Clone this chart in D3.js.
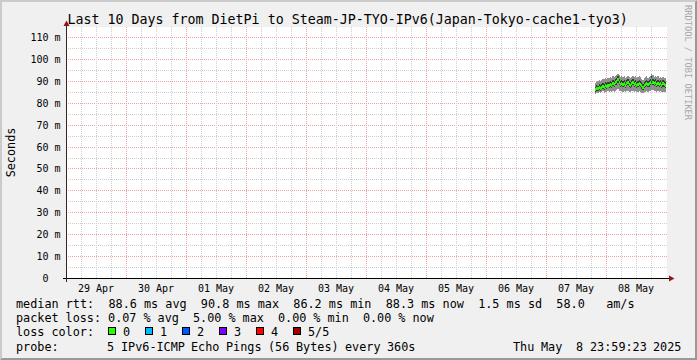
<!DOCTYPE html>
<html><head><meta charset="utf-8">
<script src="https://cdn.jsdelivr.net/npm/d3@7"></script>
<style>
html,body{margin:0;padding:0;background:#f0f0f0;}
svg{display:block;}
text{font-family:"DejaVu Sans Mono",monospace;fill:#000;}
</style></head><body>
<svg id="c" width="697" height="360"></svg>
<script>
// ---------------- data ----------------
const title = "Last 10 Days from DietPi to Steam-JP-TYO-IPv6(Japan-Tokyo-cache1-tyo3)";
const yLabel = "Seconds";
const watermark = "RRDTOOL / TOBI OETIKER";
const rangeStart = "2025-04-28 23:59:23";
const rangeEnd = "2025-05-08 23:59:23";
const yTicks = [0, 10, 20, 30, 40, 50, 60, 70, 80, 90, 100, 110];
const yTickLabels = ["0", "10 m", "20 m", "30 m", "40 m", "50 m", "60 m", "70 m", "80 m", "90 m", "100 m", "110 m"];
const dayStarts = ["2025-04-29", "2025-04-30", "2025-05-01", "2025-05-02", "2025-05-03", "2025-05-04", "2025-05-05", "2025-05-06", "2025-05-07", "2025-05-08"];
const dayLabels = ["29 Apr", "30 Apr", "01 May", "02 May", "03 May", "04 May", "05 May", "06 May", "07 May", "08 May"];

const times = [
 "2025-05-07 19:30","2025-05-07 20:00","2025-05-07 20:30","2025-05-07 21:00","2025-05-07 21:30","2025-05-07 22:00","2025-05-07 22:30","2025-05-07 23:00","2025-05-07 23:30",
 "2025-05-08 00:00","2025-05-08 00:30","2025-05-08 01:00","2025-05-08 01:30","2025-05-08 02:00","2025-05-08 02:30","2025-05-08 03:00","2025-05-08 03:30",
 "2025-05-08 04:00","2025-05-08 04:30","2025-05-08 05:00","2025-05-08 05:30","2025-05-08 06:00","2025-05-08 06:30","2025-05-08 07:00","2025-05-08 07:30",
 "2025-05-08 08:00","2025-05-08 08:30","2025-05-08 09:00","2025-05-08 09:30","2025-05-08 10:00","2025-05-08 10:30","2025-05-08 11:00","2025-05-08 11:30",
 "2025-05-08 12:00","2025-05-08 12:30","2025-05-08 13:00","2025-05-08 13:30","2025-05-08 14:00","2025-05-08 14:30","2025-05-08 15:00","2025-05-08 15:30",
 "2025-05-08 16:00","2025-05-08 16:30","2025-05-08 17:00","2025-05-08 17:30","2025-05-08 18:00","2025-05-08 18:30","2025-05-08 19:00","2025-05-08 19:30",
 "2025-05-08 20:00","2025-05-08 20:30","2025-05-08 21:00","2025-05-08 21:30","2025-05-08 22:00","2025-05-08 22:30","2025-05-08 23:00","2025-05-08 23:30"
];
// median rtt (ms)
const median = [86.2,86.8,86.5,87.0,86.7,87.4,87.8,87.2,88.0,87.6,
 88.3,87.9,88.6,88.1,88.9,88.4,89.3,89.8,90.8,89.6,
 88.7,89.2,88.5,89.0,88.3,88.9,89.4,88.6,88.2,88.8,
 89.3,88.5,88.9,88.1,88.7,89.1,88.4,87.9,87.3,88.0,
 88.6,89.0,88.4,88.8,89.5,90.8,89.6,88.9,89.3,88.6,
 89.1,88.5,88.9,88.3,88.8,88.6,88.3];
// lost pings per sample (of 5)
const loss = [0,0,0,0,0,0,0,0,0,0, 0,0,0,0,0,0,0,0,0,0, 0,0,0,0,0,0,0,0,0,0,
 0,0,0,0,0,0,0,0,0,0, 0,0,0,0,0,1,0,0,0,0, 0,0,0,0,0,0,0];
// smoke: fastest / slowest ping (ms)
const pingMin = [84.4,84.8,84.6,84.9,84.5,85.1,85.4,84.8,85.2,85.0,
 85.5,85.1,85.6,85.2,85.7,85.3,85.8,86.1,86.4,85.8,
 85.4,85.7,85.2,85.6,85.1,85.5,85.8,85.3,85.0,85.4,
 85.7,85.2,85.5,84.9,85.3,85.6,85.1,84.8,84.5,84.9,
 85.2,85.5,85.1,85.4,85.8,86.2,85.9,85.5,85.7,85.2,
 85.6,85.1,85.4,85.0,85.3,85.2,85.0];
const pingMax = [89.1,89.7,90.0,90.5,90.2,90.8,91.2,90.9,91.5,91.2,
 91.7,91.4,92.0,91.6,92.2,91.9,92.5,92.8,93.4,92.7,
 92.1,92.4,91.9,92.2,91.7,92.1,92.6,92.0,91.6,92.1,
 92.5,91.8,92.2,91.5,92.0,92.3,91.8,91.2,90.8,91.3,
 91.9,92.2,91.7,92.1,92.6,93.5,92.8,92.1,92.4,91.8,
 92.2,91.7,92.0,91.5,91.9,91.7,91.4];
// smoke: 2nd and 4th ping (ms)
const ping2 = [85.3,85.8,85.5,86.0,85.6,86.3,86.7,86.1,86.9,86.5,
 87.2,86.8,87.4,87.0,87.7,87.2,88.1,88.5,89.2,88.3,
 87.5,88.0,87.3,87.8,87.1,87.7,88.2,87.4,87.0,87.6,
 88.1,87.3,87.7,86.9,87.5,87.9,87.2,86.7,86.2,86.8,
 87.4,87.8,87.2,87.6,88.3,89.2,88.4,87.7,88.1,87.4,
 87.9,87.3,87.7,87.1,87.6,87.4,87.1];
const ping4 = [87.5,88.2,88.0,88.6,88.3,89.0,89.4,88.8,89.6,89.2,
 89.9,89.5,90.2,89.7,90.5,90.0,90.9,91.3,92.2,91.1,
 90.3,90.8,90.1,90.6,89.9,90.5,91.0,90.2,89.8,90.4,
 90.9,90.1,90.5,89.7,90.3,90.7,90.0,89.5,88.9,89.6,
 90.2,90.6,90.0,90.4,91.1,92.3,91.2,90.5,90.9,90.2,
 90.7,90.1,90.5,89.9,90.4,90.2,89.9];

const legendRtt = "median rtt:  88.6 ms avg  90.8 ms max  86.2 ms min  88.3 ms now  1.5 ms sd  58.0   am/s";
const legendLoss = "packet loss: 0.07 % avg  5.00 % max  0.00 % min  0.00 % now";
const lossColorTitle = "loss color:";
const lossLabels = ["0", "1", "2", "3", "4", "5/5"];
const lossColors = ["#26ff00", "#00b8ff", "#0059ff", "#7e00ff", "#ff0000", "#a00000"];
const probeText = "probe:       5 IPv6-ICMP Echo Pings (56 Bytes) every 360s";
const stampText = "Thu May  8 23:59:23 2025";

// ---------------- drawing ----------------
const svg = d3.select("#c");
const W = 697, H = 360;
const parseT = d3.utcParse("%Y-%m-%d %H:%M:%S");
const parseM = d3.utcParse("%Y-%m-%d %H:%M");
const parseD = d3.utcParse("%Y-%m-%d");

const x = d3.scaleUtc().domain([parseT(rangeStart), parseT(rangeEnd)]).range([66, 666]);
const y = d3.scaleLinear().domain([0, 110]).range([278.5, 37.5]);
const plotTop = 27, plotBottom = 278, plotLeft = 66, plotRight = 667;
const px = v => Math.floor(v) + 0.5;

// background + 3D frame
svg.append("rect").attr("x", 0).attr("y", 0).attr("width", W).attr("height", H).attr("fill", "#f0f0f0");
svg.append("path").attr("d", `M0,${H} L0,0 L${W},0 L${W-2},2 L2,2 L2,${H-2} Z`).attr("fill", "#cbcbcb");
svg.append("path").attr("d", `M${W},0 L${W},${H} L0,${H} L2,${H-2} L${W-2},${H-2} L${W-2},2 Z`).attr("fill", "#999999");

// canvas
svg.append("rect").attr("x", plotLeft).attr("y", plotTop).attr("width", plotRight - plotLeft).attr("height", plotBottom - plotTop).attr("fill", "#ffffff");

const grid = svg.append("g").attr("shape-rendering", "crispEdges");
const ymaxVal = y.invert(plotTop);
d3.range(5, ymaxVal, 5).forEach(v => {
  const major = yTicks.includes(v);
  grid.append("line").attr("x1", plotLeft).attr("x2", plotRight)
    .attr("y1", px(y(v))).attr("y2", px(y(v)))
    .attr("stroke", major ? "#f2a0a0" : "#cfcfcf").attr("stroke-dasharray", "1,1");
});
const [t0, t1] = x.domain();
d3.utcHour.every(6).range(t0, t1).forEach(t => {
  if (t.getUTCHours() === 0) return;
  grid.append("line").attr("y1", plotTop).attr("y2", plotBottom)
    .attr("x1", px(x(t))).attr("x2", px(x(t)))
    .attr("stroke", "#cfcfcf").attr("stroke-dasharray", "1,1");
});
dayStarts.forEach(d => {
  const t = parseD(d);
  grid.append("line").attr("y1", plotTop).attr("y2", plotBottom)
    .attr("x1", px(x(t))).attr("x2", px(x(t)))
    .attr("stroke", "#f2a0a0").attr("stroke-dasharray", "1,1");
});

// data
const data = times.map((s, i) => ({
  t: parseM(s), med: median[i], loss: loss[i],
  lo: pingMin[i], hi: pingMax[i], p2: ping2[i], p4: ping4[i]
}));
const stepW = x(data[1].t) - x(data[0].t);

const smoke = svg.append("g").attr("shape-rendering", "crispEdges");
smoke.selectAll("rect.outer").data(data).join("rect")
  .attr("x", d => x(d.t)).attr("width", stepW)
  .attr("y", d => y(d.hi)).attr("height", d => y(d.lo) - y(d.hi))
  .attr("fill", "#8f8f8f");
smoke.selectAll("rect.inner").data(data).join("rect")
  .attr("x", d => x(d.t)).attr("width", stepW)
  .attr("y", d => y(d.p4)).attr("height", d => y(d.p2) - y(d.p4))
  .attr("fill", "#3a3a3a");
svg.append("g").attr("shape-rendering", "crispEdges")
  .selectAll("rect").data(data).join("rect")
  .attr("x", d => x(d.t)).attr("width", stepW)
  .attr("y", d => y(d.med) - 1.5).attr("height", 3)
  .attr("fill", d => lossColors[d.loss]);

// axes
const axisG = svg.append("g");
axisG.append("line").attr("x1", 63).attr("x2", 670).attr("y1", 278.5).attr("y2", 278.5)
  .attr("stroke", "#000").attr("shape-rendering", "crispEdges");
axisG.append("line").attr("x1", 66.5).attr("x2", 66.5).attr("y1", 282).attr("y2", 24)
  .attr("stroke", "#3a2424").attr("shape-rendering", "crispEdges");
axisG.append("path").attr("d", "M669,275.5 L674.5,278.5 L669,281.5 Z").attr("fill", "#8b1a1a");
axisG.append("path").attr("d", "M63.5,26 L66.5,20.5 L69.5,26 Z").attr("fill", "#8b1a1a");

yTicks.forEach((v, i) => {
  const lab = yTickLabels[i];
  svg.append("text").attr("x", lab.includes("m") ? 60.5 : 48.5).attr("y", px(y(v)) + 3.5)
    .attr("text-anchor", "end").attr("font-size", 10).text(lab);
});
dayStarts.forEach((d, i) => {
  const t = d3.utcHour.offset(parseD(d), 12);
  svg.append("text").attr("x", x(t)).attr("y", 291.5)
    .attr("text-anchor", "middle").attr("font-size", 10).text(dayLabels[i]);
});

svg.append("text").attr("x", 67.5).attr("y", 24).attr("font-size", 13.3).text(title);
svg.append("text").attr("transform", "translate(15,152.5) rotate(-90)")
  .attr("text-anchor", "middle").attr("font-size", 11.8).text(yLabel);
svg.append("text").attr("transform", "translate(685,5) rotate(90)")
  .attr("font-size", 8.7).style("fill", "#a8a8a8").text(watermark);

// legend
const LX = 16;
function monoLine(str, x0, yb, cw) {
  const re = /\S+/g; let m;
  while ((m = re.exec(str)) !== null) {
    svg.append("text").attr("x", x0 + m.index * cw).attr("y", yb)
      .attr("font-size", 11.8).text(m[0]);
  }
}
monoLine(legendRtt, LX, 307.5, 7.11);
monoLine(legendLoss, LX, 321.5, 7.08);
monoLine(lossColorTitle, LX, 335.5, 7.08);
lossLabels.forEach((lab, k) => {
  const bx = 108.5 + k * 37;
  svg.append("rect").attr("x", bx).attr("y", 327.5).attr("width", 7).attr("height", 7)
    .attr("fill", lossColors[k]).attr("stroke", "#000").attr("shape-rendering", "crispEdges");
  svg.append("text").attr("x", bx + 14.5).attr("y", 335.5).attr("font-size", 11.8).text(lab);
});
monoLine(probeText, LX, 350.5, 7.0);
monoLine(stampText, 513, 350.5, 7.0);
</script>
</body></html>
